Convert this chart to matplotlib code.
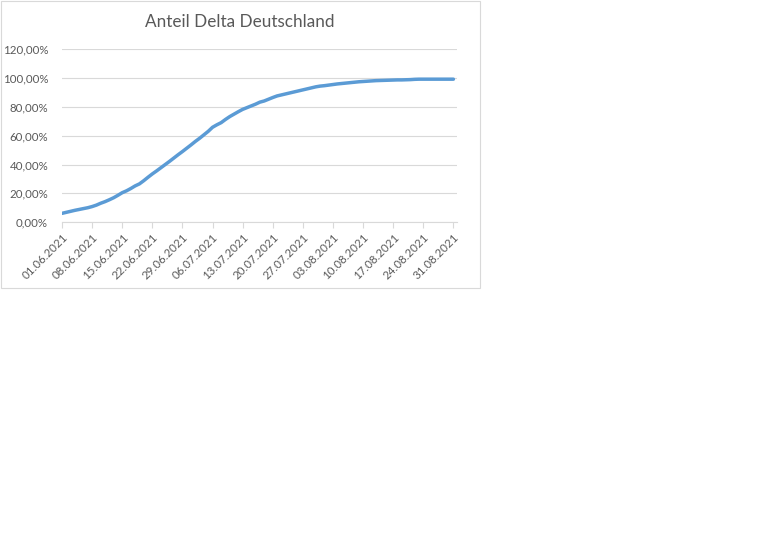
import matplotlib.pyplot as plt
import matplotlib.dates as mdates
from matplotlib.patches import Rectangle
from matplotlib.ticker import FuncFormatter
import pandas as pd

TITLE = "Anteil Delta Deutschland"
START_DATE = "2021-06-01"
END_DATE = "2021-08-31"

# daily share of Delta in percent, 01.06.2021 .. 31.08.2021
delta_share = [
    6.2, 6.9, 7.6, 8.3, 8.9, 9.5, 10.1, 10.9, 11.9, 13.2,
    14.3, 15.6, 17.0, 18.7, 20.5, 21.8, 23.4, 25.2, 26.6, 28.8,
    31.2, 33.5, 35.6, 37.8, 40.0, 42.2, 44.5, 46.8, 49.0, 51.3,
    53.6, 56.0, 58.2, 60.6, 63.0, 65.8, 67.5, 69.0, 71.2, 73.2,
    74.9, 76.6, 78.2, 79.4, 80.6, 81.8, 83.2, 84.0, 85.2, 86.4,
    87.5, 88.2, 88.9, 89.6, 90.3, 91.0, 91.7, 92.4, 93.1, 93.8,
    94.3, 94.6, 95.0, 95.4, 95.8, 96.1, 96.4, 96.7, 97.0, 97.3,
    97.5, 97.7, 97.9, 98.1, 98.2, 98.3, 98.4, 98.5, 98.6, 98.6,
    98.7, 98.8, 99.0, 99.1, 99.1, 99.1, 99.1, 99.1, 99.1, 99.1,
    99.1, 99.1,
]
y_ticks = [0, 20, 40, 60, 80, 100, 120]

W, H = 768, 553
TEXT = "#595959"
GRID = "#D9D9D9"
BLUE = "#5B9BD5"

plt.rcParams["font.family"] = ["Lato", "DejaVu Sans"]


def main():
    dates = pd.date_range(START_DATE, END_DATE, freq="D")

    fig = plt.figure(figsize=(W / 100, H / 100), dpi=100)
    # chart border like the Excel chart area
    fig.patches.append(Rectangle((0.5 / W, 1 - 287.5 / H), 479 / W, 287 / H,
                                 transform=fig.transFigure, fill=False,
                                 edgecolor=GRID, linewidth=0.8))

    ax = fig.add_axes([62 / W, 1 - 222.3 / H, (457 - 62) / W, (222.3 - 49) / H])
    ax.plot(dates, delta_share, color=BLUE, linewidth=2.5, solid_capstyle="round")

    ax.set_ylim(0, 120)
    ax.set_yticks(y_ticks)
    ax.yaxis.set_major_formatter(FuncFormatter(lambda v, _: f"{v:.2f}%".replace(".", ",")))
    ax.set_xlim(dates[0], dates[-1] + pd.Timedelta(hours=20))
    ax.set_xticks(pd.date_range(START_DATE, END_DATE, freq="7D"))
    ax.xaxis.set_major_formatter(mdates.DateFormatter("%d.%m.%Y"))

    ax.grid(axis="y", color=GRID, linewidth=0.8)
    ax.set_axisbelow(True)
    for side in ["top", "right", "left"]:
        ax.spines[side].set_visible(False)
    ax.spines["bottom"].set_color(GRID)
    ax.spines["bottom"].set_linewidth(0.8)
    ax.tick_params(axis="y", length=0, pad=10, labelsize=8.3, labelcolor=TEXT)
    ax.tick_params(axis="x", length=4, width=0.8, color=GRID, pad=3,
                   labelsize=8.3, labelcolor=TEXT)
    for lbl in ax.get_xticklabels():
        lbl.set_rotation(45)
        lbl.set_ha("right")
        lbl.set_rotation_mode("anchor")

    fig.text(240 / W, 1 - 22 / H, TITLE, ha="center", va="center",
             fontsize=12.3, color=TEXT)

    fig.savefig("out.png", dpi=100)


if __name__ == "__main__":
    main()
